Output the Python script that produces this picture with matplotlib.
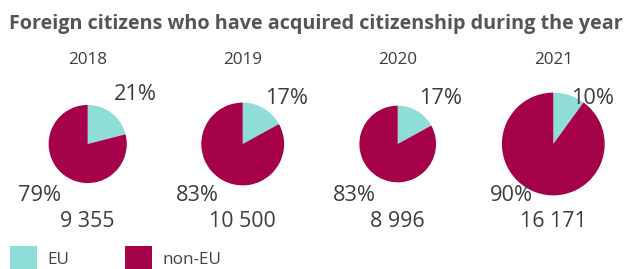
import numpy as np
import matplotlib
matplotlib.use("Agg")
import matplotlib.pyplot as plt
from matplotlib.patches import Rectangle

# ---- data ----
years = ["2018", "2019", "2020", "2021"]
eu_pct = [21, 17, 17, 10]
non_eu_pct = [79, 83, 83, 90]
totals = [9355, 10500, 8996, 16171]
total_labels = ["9 355", "10 500", "8 996", "16 171"]
legend_labels = ["EU", "non-EU"]

# ---- style / layout ----
C_EU = "#8EDDD6"
C_NON = "#A60249"
TXT = "#3d3d3d"
FONT = ["Open Sans", "DejaVu Sans"]
W, H = 630, 269

fig = plt.figure(figsize=(W / 100, H / 100), dpi=100)
ax = fig.add_axes([0, 0, 1, 1])
ax.set_xlim(0, W)
ax.set_ylim(0, H)
ax.axis("off")

def Y(py):
    return H - py

centers_x = [87.7, 242.7, 397.7, 553.3]
center_y = 144
r_scale = 0.404
eu_off = [(47.8, -49), (44.1, -45), (43.3, -45), (39.0, -45)]
non_off = [(-48.2, 51.7), (-45.4, 51.7), (-43.4, 51.7), (-41.6, 51.7)]

for i in range(len(years)):
    cx = centers_x[i]
    r = r_scale * np.sqrt(totals[i])
    ax.pie([eu_pct[i], non_eu_pct[i]], colors=[C_EU, C_NON], startangle=90,
           counterclock=False, center=(cx, Y(center_y)), radius=r,
           wedgeprops=dict(linewidth=0), frame=True)
    ax.text(cx, Y(60), years[i], ha="center", va="center", fontsize=12.3,
            color=TXT, family=FONT)
    ax.text(cx + eu_off[i][0], Y(center_y + eu_off[i][1]), f"{eu_pct[i]}%",
            ha="center", va="center", fontsize=15.7, color=TXT, family=FONT)
    ax.text(cx + non_off[i][0], Y(center_y + non_off[i][1]), f"{non_eu_pct[i]}%",
            ha="center", va="center", fontsize=15.7, color=TXT, family=FONT)
    ax.text(cx, Y(221.7), total_labels[i], ha="center", va="center",
            fontsize=15.4, color=TXT, family=FONT)

ax.set_xlim(0, W)
ax.set_ylim(0, H)
ax.set_aspect("auto")
ax.axis("off")

# title
ax.text(9, Y(24), "Foreign citizens who have acquired citizenship during the year",
        ha="left", va="center", fontsize=14.2, fontweight="bold", color="#555555",
        family=FONT)

# legend
for lx, tx, lab, col in [(10, 47.7, legend_labels[0], C_EU),
                         (125, 162.3, legend_labels[1], C_NON)]:
    ax.add_patch(Rectangle((lx, Y(268.5)), 26.7, 22.5, facecolor=col,
                           edgecolor="none"))
    ax.text(tx, Y(260), lab, ha="left", va="center", fontsize=12.3,
            color="#444444", family=FONT)

fig.savefig("out.png", dpi=100)
